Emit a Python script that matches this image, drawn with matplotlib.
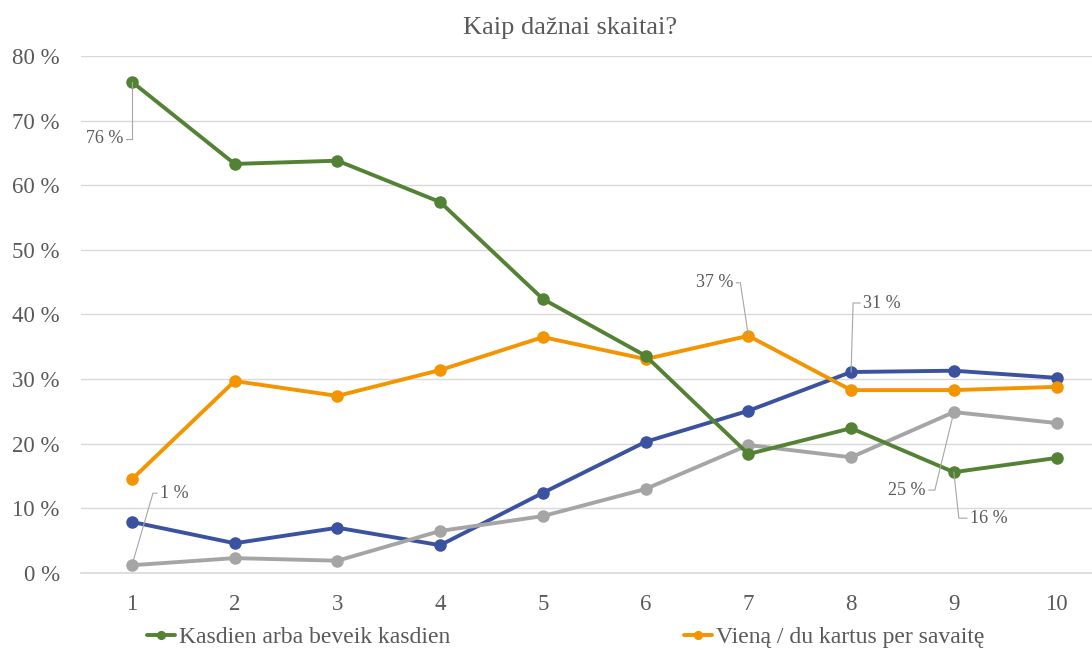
import numpy as np
import matplotlib
matplotlib.use("Agg")
import matplotlib.pyplot as plt
from matplotlib.lines import Line2D
from matplotlib.transforms import IdentityTransform

plt.rcParams['font.family'] = ['Liberation Serif', 'DejaVu Serif']

grades = [1, 2, 3, 4, 5, 6, 7, 8, 9, 10]
kasdien = [76.0, 63.3, 63.8, 57.4, 42.4, 33.6, 18.4, 22.4, 15.6, 17.8]
savaite = [14.5, 29.7, 27.4, 31.4, 36.5, 33.1, 36.7, 28.3, 28.3, 28.8]
blue_series = [7.9, 4.6, 7.0, 4.3, 12.4, 20.3, 25.1, 31.1, 31.3, 30.2]
gray_series = [1.2, 2.3, 1.9, 6.5, 8.8, 13.0, 19.8, 17.9, 24.9, 23.2]
yticks = [0, 10, 20, 30, 40, 50, 60, 70, 80]

GREEN = '#548235'
ORANGE = '#f39400'
BLUE = '#3a52a0'
GRAY = '#a5a5a5'
TXT = '#595959'

fig = plt.figure(figsize=(10.92, 6.52), dpi=100)
ax = fig.add_axes([0.0738, 0.1212, 0.9408, 0.7929])

lines = {}
for name, vals, col in [('blue', blue_series, BLUE), ('gray', gray_series, GRAY),
                        ('orange', savaite, ORANGE), ('green', kasdien, GREEN)]:
    lines[name], = ax.plot(grades, vals, color=col, lw=2.8, marker='o', ms=8,
                           solid_capstyle='round', zorder=3)

ax.set_xlim(0.5, 10.5)
ax.set_ylim(0, 80)
ax.set_xticks(grades)
ax.set_yticks(yticks)
ax.set_yticklabels([f'{v} %' for v in yticks])
ax.grid(axis='y', color='#d9d9d9', lw=1)
ax.axhline(0, color='#d9d9d9', lw=1.2, clip_on=False, zorder=0.5)
ax.set_axisbelow(True)
for s in ax.spines.values():
    s.set_visible(False)
ax.tick_params(axis='both', length=0, labelsize=16.5, labelcolor=TXT)
ax.tick_params(axis='y', pad=15)
ax.tick_params(axis='x', pad=15)

fig.text(0.522, 1 - 28 / 652, 'Kaip dažnai skaitai?', ha='center', va='center',
         fontsize=19, color=TXT)

# data labels with leader lines: (series, index, elbow dx, elbow dy, stub, side)
labels = [
    (kasdien, 0, 0, -57, 6, 'left'),
    (gray_series, 0, 21, 72, 4, 'right'),
    (savaite, 6, -8, 53, 4, 'left'),
    (blue_series, 7, 2, 69, 7, 'right'),
    (gray_series, 8, -19, -78, 6, 'left'),
    (kasdien, 8, 5, -46, 8, 'right'),
]
fig.canvas.draw()
for vals, i, dx, dy, stub, side in labels:
    px, py = ax.transData.transform((grades[i], vals[i]))
    ex, ey = px + dx, py + dy
    sx = ex - stub if side == 'left' else ex + stub
    fig.add_artist(Line2D([px, ex, sx], [py, ey, ey], transform=IdentityTransform(),
                          color='#a6a6a6', lw=0.8, zorder=2))
    tx = sx - 3 if side == 'left' else sx + 3
    fig.text(tx, ey, f'{round(vals[i])} %', transform=IdentityTransform(),
             ha='right' if side == 'left' else 'left', va='center',
             fontsize=13, color=TXT)

fig.legend(handles=[lines['green'], lines['orange']],
           labels=['Kasdien arba beveik kasdien', 'Vieną / du kartus per savaitę'],
           ncol=2, loc='center left', bbox_to_anchor=(147 / 1092, 1 - 637 / 652),
           frameon=False, fontsize=17, labelcolor=TXT, handlelength=1.2,
           handletextpad=0.15, columnspacing=9.9, borderpad=0, borderaxespad=0,
           markerscale=0.7)

fig.savefig('out.png', dpi=100)
